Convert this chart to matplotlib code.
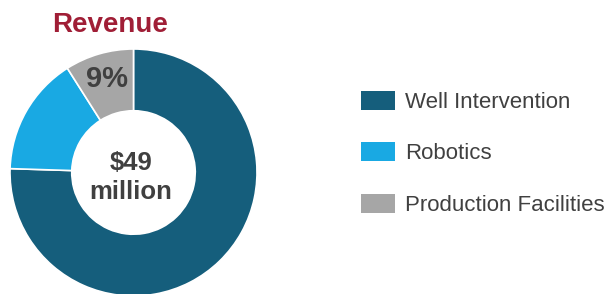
import matplotlib
matplotlib.use("Agg")
import matplotlib.pyplot as plt

plt.rcParams['font.family'] = ['Liberation Sans', 'DejaVu Sans']

categories = ["Well Intervention", "Robotics", "Production Facilities"]
shares = [75.5, 15.5, 9.0]
colors = ["#155E7C", "#19A9E3", "#A6A6A6"]
title = "Revenue"
center_text = "$49\nmillion"
label_text = "9%"

W, H = 609, 294
fig = plt.figure(figsize=(W/100, H/100), dpi=100)
cx, cy, r = 133.5, 294 - 172.5, 123.5
ax = fig.add_axes([(cx - r)/W, (cy - r)/H, 2*r/W, 2*r/H])
wedges, _ = ax.pie(shares, colors=colors, startangle=90, counterclock=False,
                   radius=1.0, wedgeprops=dict(width=0.5, edgecolor='white', linewidth=1.2))
ax.set_xlim(-1, 1); ax.set_ylim(-1, 1)
ax.set_aspect('equal')
ax.axis('off')
for w in wedges:
    w.set_clip_on(False)

ax.text(-0.02, -0.04, center_text, ha='center', va='center', fontsize=18.5,
        fontweight='bold', color='#404040', linespacing=1.22)
ax.text(-0.215, 0.76, label_text, ha='center', va='center', fontsize=21,
        fontweight='bold', color='#404040')
fig.text(110/W, 1 - 32/H, title, ha='center', va='baseline', fontsize=20,
         fontweight='bold', color='#A01E36')

leg = fig.legend(wedges, categories, loc='upper left',
                 bbox_to_anchor=(352/W, 1 - 82/H), frameon=False,
                 fontsize=16, handlelength=1.55, handleheight=0.92,
                 handletextpad=0.42, labelspacing=1.33, borderaxespad=0)
for t in leg.get_texts():
    t.set_color('#404040')
for h in leg.legend_handles:
    h.set_edgecolor('none')

fig.savefig("out.png", dpi=100)
